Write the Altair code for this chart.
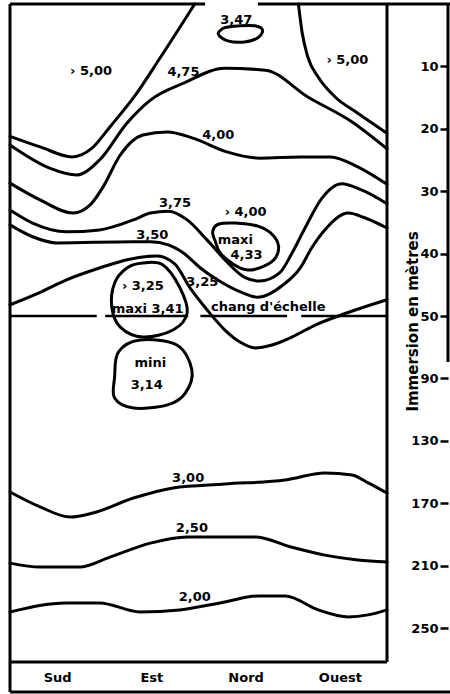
import altair as alt
import pandas as pd

# Compass sectors along the horizontal axis (one unit per sector)
directions = ["Sud", "Est", "Nord", "Ouest"]
# Depth ticks (m); the vertical scale changes at 50 m
depth_ticks = [10, 20, 30, 40, 50, 90, 130, 170, 210, 250]
scale_break = 50

# Isotherms as (sector position, depth in m)
iso_500_w = [(0, 21.2), (0.32, 22.9), (0.66, 24.5), (0.87, 23.1), (1.06, 19.7),
             (1.33, 14.6), (1.59, 8.7), (1.96, 0)]
iso_500_e = [(3.06, 0), (3.10, 4.6), (3.16, 8.5), (3.27, 11.7), (3.45, 14.9),
             (3.69, 17.5), (4.0, 20.7)]
iso_475 = [(0, 22.6), (0.42, 26.3), (0.71, 27.4), (0.95, 25.0), (1.24, 19.1),
           (1.49, 15.4), (1.84, 12.7), (2.28, 10.3), (2.71, 10.6), (3.16, 14.9),
           (3.63, 18.9), (4.0, 23.2)]
iso_400 = [(0, 28.7), (0.32, 31.4), (0.67, 33.5), (0.85, 32.2), (0.98, 29.5),
           (1.17, 24.2), (1.41, 21.0), (1.67, 20.5), (1.94, 21.5), (2.30, 23.7),
           (2.65, 24.7), (3.08, 24.5), (3.40, 24.5), (3.69, 26.1), (4.0, 28.9)]
iso_375 = [(0, 33.0), (0.24, 35.1), (0.60, 36.5), (0.95, 36.2), (1.31, 34.6),
           (1.49, 33.5), (1.68, 33.2), (1.88, 34.6), (2.09, 37.8), (2.30, 41.3),
           (2.49, 43.8), (2.65, 44.4), (2.86, 43.1), (3.00, 39.7), (3.13, 35.9),
           (3.31, 31.1), (3.52, 28.8), (3.73, 29.8), (4.0, 32.0)]
iso_350 = [(0, 35.4), (0.24, 37.3), (0.50, 38.3), (1.31, 38.1), (1.49, 38.1),
           (1.68, 38.6), (1.84, 39.9), (2.02, 42.3), (2.20, 44.2), (2.47, 46.3),
           (2.63, 47.0), (2.90, 45.0), (3.08, 42.3), (3.20, 39.1), (3.34, 36.2),
           (3.59, 33.5), (3.77, 34.3), (4.0, 35.9)]
iso_325 = [(0, 48.2), (0.32, 46.2), (0.60, 44.2), (0.95, 42.3), (1.27, 40.9),
           (1.56, 40.4), (1.75, 41.7), (1.91, 45.5), (2.09, 49.0), (2.28, 59.0),
           (2.44, 66.7), (2.60, 70.5), (2.78, 68.6), (2.99, 63.5), (3.24, 55.8),
           (3.52, 49.8), (4.0, 47.4)]
iso_300 = [(0, 162.8), (0.32, 172.4), (0.64, 178.9), (0.88, 176.3), (1.31, 166.7),
           (1.73, 160.2), (2.28, 157.7), (2.92, 155.1), (3.34, 150.6), (3.63, 151.9),
           (3.80, 157.0), (4.0, 163.5)]
iso_250 = [(0, 208.4), (0.32, 210.9), (0.74, 210.9), (1.06, 204.6), (1.49, 195.6),
           (1.88, 191.7), (2.28, 191.7), (2.60, 191.7), (2.99, 198.2), (3.34, 203.3),
           (3.69, 206.4), (4.0, 207.7)]
iso_200 = [(0, 239.7), (0.60, 233.9), (0.95, 233.9), (1.38, 239.7), (1.80, 238.4),
           (2.28, 233.3), (2.63, 229.5), (2.92, 229.5), (3.27, 238.4), (3.59, 242.9),
           (3.80, 241.6), (4.0, 238.4)]

# Closed cells (local extrema)
cell_347 = [(2.21, 4.8), (2.28, 3.8), (2.44, 3.5), (2.60, 3.5), (2.68, 4.2),
            (2.63, 5.4), (2.49, 6.1), (2.31, 5.9)]
cell_433 = [(2.15, 36.5), (2.21, 35.3), (2.39, 35.1), (2.63, 35.6), (2.78, 36.9),
            (2.85, 38.9), (2.80, 41.0), (2.65, 42.3), (2.51, 42.6), (2.37, 41.7),
            (2.23, 39.9), (2.18, 38.1)]
cell_341 = [(1.41, 41.5), (1.62, 41.8), (1.80, 45.4), (1.88, 49.5), (1.73, 59.0),
            (1.41, 63.5), (1.17, 57.1), (1.08, 48.6), (1.11, 44.7), (1.24, 42.3)]
cell_314 = [(1.15, 73.1), (1.38, 65.4), (1.77, 68.6), (1.93, 84.6), (1.86, 99.4),
            (1.67, 107.0), (1.31, 109.0), (1.11, 102.6), (1.11, 89.1)]

# Curve labels: text, sector position, depth
label_text = ["› 5,00", "› 5,00", "4,75", "3,47", "4,00", "3,75", "3,50", "› 4,00",
              "maxi", "4,33", "› 3,25", "3,25", "maxi 3,41", "chang d'échelle",
              "mini", "3,14", "3,00", "2,50", "2,00"]
label_pos = [0.86, 3.58, 1.84, 2.40, 2.21, 1.75, 1.51, 2.50,
             2.39, 2.51, 1.41, 2.04, 1.46, 2.74,
             1.49, 1.45, 1.89, 1.93, 1.96]
label_depth = [10.7, 9.0, 10.9, 2.6, 21.0, 31.9, 37.0, 33.3,
               37.8, 40.2, 45.2, 44.6, 48.9, 48.6,
               80.1, 94.2, 153.8, 185.9, 230.1]

# Broken line marking the change of vertical scale
break_segments = [(0, 0.92), (1.01, 1.89), (2.02, 2.94), (3.09, 4.0)]

# Frame pieces: x, x2, depth, depth2
frame_segments = [
    (0, 0, 0, 291.0),          # left edge incl. label strip
    (0, 2.07, 0, 0),           # top edge, west part
    (2.63, 4.67, 0, 0),        # top edge, east part
    (4.0, 4.0, 0, 271.8),      # right edge
    (0, 4.0, 271.8, 271.8),    # bottom of plot
    (0, 4.67, 291.0, 291.0),   # bottom of label strip
    (4.647, 4.647, 0, 79.5),   # depth axis line
]


def curves_frame(curves):
    rows = []
    for name, pts in curves.items():
        for i, (b, d) in enumerate(pts):
            rows.append({"curve": name, "i": i, "pos": b, "depth": d})
    return pd.DataFrame(rows)


open_df = curves_frame({
    "5,00 O": iso_500_w, "5,00 E": iso_500_e, "4,75": iso_475, "4,00": iso_400,
    "3,75": iso_375, "3,50": iso_350, "3,25": iso_325, "3,00": iso_300,
    "2,50": iso_250, "2,00": iso_200,
})
closed_df = curves_frame({
    "3,47": cell_347, "4,33": cell_433, "3,41": cell_341, "3,14": cell_314,
})
labels_df = pd.DataFrame({"text": label_text, "pos": label_pos, "depth": label_depth})
break_df = pd.DataFrame({"x": [s[0] for s in break_segments],
                         "x2": [s[1] for s in break_segments],
                         "depth": [scale_break] * len(break_segments)})
frame_df = pd.DataFrame(frame_segments, columns=["x", "x2", "y", "y2"])

FONT = "DejaVu Sans"
W, H = 377, 658
STEP = 62.4

x_scale = alt.Scale(domain=[0, 4], nice=False, zero=False)
y_scale = alt.Scale(domain=[0, scale_break, 250], range=[0, 5 * STEP, 10 * STEP],
                    nice=False, zero=False)

label_expr = "[" + ",".join(f"'{d}'" for d in directions) + "][floor(datum.value)]"

x_axis = alt.Axis(values=[0.5, 1.5, 2.5, 3.5], labelExpr=label_expr, ticks=False,
                  domain=False, grid=False, title=None, labelPadding=15,
                  labelBaseline="middle", labelFont=FONT, labelFontSize=13,
                  labelFontWeight="bold", labelColor="black")
y_axis = alt.Axis(orient="right", offset=53, values=depth_ticks, format="d",
                  domain=False, grid=False, tickSize=8, tickWidth=2.5,
                  tickColor="black", labelAlign="right", labelPadding=-10,
                  labelBaseline="middle", labelFont=FONT, labelFontSize=13,
                  labelFontWeight="bold", labelColor="black",
                  title="Immersion en mètres", titleAngle=270, titleX=-28,
                  titleY=317, titleAlign="center", titleBaseline="middle",
                  titleFont=FONT, titleFontSize=15, titleFontWeight="bold",
                  titleColor="black")


def xy(xfield, yfield):
    return dict(
        x=alt.X(f"{xfield}:Q", scale=x_scale, axis=x_axis),
        y=alt.Y(f"{yfield}:Q", scale=y_scale, axis=y_axis),
    )


open_lines = alt.Chart(open_df).mark_line(
    color="black", strokeWidth=3, interpolate="monotone", strokeCap="round"
).encode(**xy("pos", "depth"), detail="curve:N", order="i:Q")

closed_lines = alt.Chart(closed_df).mark_line(
    color="black", strokeWidth=3, interpolate="cardinal-closed"
).encode(**xy("pos", "depth"), detail="curve:N", order="i:Q")

break_line = alt.Chart(break_df).mark_rule(color="black", strokeWidth=2.5).encode(
    **xy("x", "depth"), x2="x2:Q"
)

frame = alt.Chart(frame_df).mark_rule(color="black", strokeWidth=3).encode(
    **xy("x", "y"), x2="x2:Q", y2="y2:Q"
)

labels = alt.Chart(labels_df).mark_text(
    font=FONT, fontSize=13, fontWeight="bold", color="black",
    align="center", baseline="middle"
).encode(**xy("pos", "depth"), text="text:N")

chart = alt.layer(open_lines, closed_lines, break_line, frame, labels).properties(
    width=W, height=H,
    autosize=alt.AutoSizeParams(type="none"),
    padding={"left": 10, "top": 4, "right": 63, "bottom": 32},
    background="white",
).configure_view(stroke=None)

chart.save("out.html", embed_options={"renderer": "svg", "actions": False})
